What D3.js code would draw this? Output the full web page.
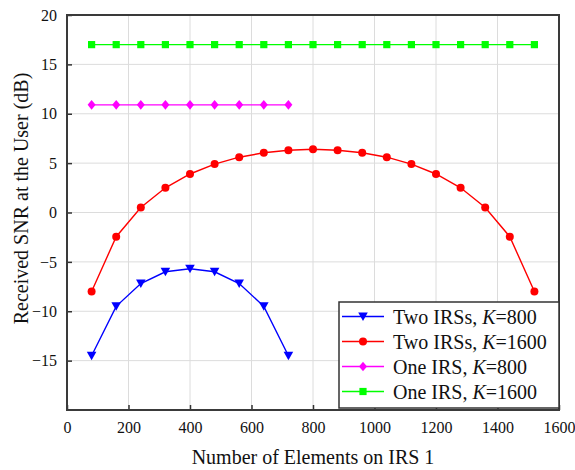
<!DOCTYPE html>
<html>
<head>
<meta charset="utf-8">
<script src="https://cdn.jsdelivr.net/npm/d3@7"></script>
<style>
  body { margin: 0; background: #fff; }
  svg, svg text { font-family: "Liberation Serif", Tinos, serif; }
</style>
</head>
<body>
<svg id="chart" width="575" height="470"></svg>
<script>
// data
const xShort = [80, 160, 240, 320, 400, 480, 560, 640, 720];
const xLong = [80, 160, 240, 320, 400, 480, 560, 640, 720, 800, 880, 960, 1040, 1120, 1200, 1280, 1360, 1440, 1520];
const twoIrsK800 = [-14.5, -9.5, -7.2, -6.0, -5.7, -6.0, -7.2, -9.5, -14.5];
const twoIrsK1600 = [-8.0, -2.45, 0.5, 2.5, 3.9, 4.9, 5.6, 6.05, 6.3, 6.4, 6.3, 6.05, 5.6, 4.9, 3.9, 2.5, 0.5, -2.45, -8.0];
const oneIrsK800 = [10.9, 10.9, 10.9, 10.9, 10.9, 10.9, 10.9, 10.9, 10.9];
const oneIrsK1600 = [17, 17, 17, 17, 17, 17, 17, 17, 17, 17, 17, 17, 17, 17, 17, 17, 17, 17, 17];
const xTicks = [0, 200, 400, 600, 800, 1000, 1200, 1400, 1600];
const yTicks = [-15, -10, -5, 0, 5, 10, 15, 20];
const yGrid = [-15, -10, -5, 0, 5, 10, 15];

const series = [
  { name: "Two IRSs, ", k: "800", xs: xShort, ys: twoIrsK800, color: "#0000ff", marker: "triangleDown" },
  { name: "Two IRSs, ", k: "1600", xs: xLong, ys: twoIrsK1600, color: "#ff0000", marker: "circle" },
  { name: "One IRS, ", k: "800", xs: xShort, ys: oneIrsK800, color: "#ff00ff", marker: "diamond" },
  { name: "One IRS, ", k: "1600", xs: xLong, ys: oneIrsK1600, color: "#00ff00", marker: "square" }
];

const serif = "'Liberation Serif', Tinos, serif";
const margin = { left: 67, top: 15, right: 16, bottom: 60 };
const width = 575, height = 470;
const svg = d3.select("#chart").style("font-family", serif);

const x = d3.scaleLinear().domain([0, 1600]).range([margin.left, width - margin.right]);
const y = d3.scaleLinear().domain([-20, 20]).range([height - margin.bottom, margin.top]);

// grid
const grid = svg.append("g").attr("stroke", "#dcdcdc").attr("stroke-width", 1);
grid.selectAll("line.vx")
  .data(xTicks.slice(1, -1))
  .join("line")
  .attr("x1", d => x(d)).attr("x2", d => x(d))
  .attr("y1", y(-20)).attr("y2", y(20));
grid.selectAll("line.hy")
  .data(yGrid)
  .join("line")
  .attr("x1", x(0)).attr("x2", x(1600))
  .attr("y1", d => y(d)).attr("y2", d => y(d));

// axes (ticks pointing inward)
const xAxis = d3.axisBottom(x).tickValues(xTicks).tickFormat(d3.format("d"))
  .tickSizeInner(-5).tickSizeOuter(0).tickPadding(12);
const yAxis = d3.axisLeft(y).tickValues(yTicks).tickFormat(d3.format("d"))
  .tickSizeInner(-5).tickSizeOuter(0).tickPadding(10);

const gx = svg.append("g").attr("transform", `translate(0,${y(-20)})`).call(xAxis);
const gy = svg.append("g").attr("transform", `translate(${x(0)},0)`).call(yAxis);
[gx, gy].forEach(g => {
  g.select(".domain").remove();
  g.selectAll(".tick line").attr("stroke", "#333").attr("stroke-width", 1.5);
  g.selectAll(".tick text")
    .attr("fill", "#111")
    .style("font-family", serif)
    .style("font-size", "16px");
});
gx.selectAll(".tick text").attr("dy", "0.71em");

// frame
svg.append("rect")
  .attr("x", x(0)).attr("y", y(20))
  .attr("width", x(1600) - x(0)).attr("height", y(-20) - y(20))
  .attr("fill", "none")
  .attr("stroke", "#3a3a3a")
  .attr("stroke-width", 2);

// markers
function drawMarker(g, type, cx, cy, color) {
  if (type === "circle") {
    g.append("circle").attr("cx", cx).attr("cy", cy).attr("r", 4).attr("fill", color);
  } else if (type === "square") {
    g.append("rect").attr("x", cx - 3.6).attr("y", cy - 3.6).attr("width", 7.2).attr("height", 7.2).attr("fill", color);
  } else if (type === "diamond") {
    g.append("path")
      .attr("d", `M${cx},${cy - 4.8}L${cx + 4},${cy}L${cx},${cy + 4.8}L${cx - 4},${cy}Z`)
      .attr("fill", color);
  } else if (type === "triangleDown") {
    g.append("path")
      .attr("d", `M${cx - 4.8},${cy - 4}L${cx + 4.8},${cy - 4}L${cx},${cy + 4.5}Z`)
      .attr("fill", color);
  }
}

const line = d3.line().x(d => x(d[0])).y(d => y(d[1]));
const plot = svg.append("g");
// draw back to front so blue ends on top like the reference
series.slice().reverse().forEach(s => {
  const pts = s.xs.map((v, i) => [v, s.ys[i]]);
  const g = plot.append("g");
  g.append("path")
    .attr("d", line(pts))
    .attr("fill", "none")
    .attr("stroke", s.color)
    .attr("stroke-width", 1.4);
  pts.forEach(p => drawMarker(g, s.marker, x(p[0]), y(p[1]), s.color));
});

// axis titles
svg.append("text")
  .attr("x", (x(0) + x(1600)) / 2)
  .attr("y", 464)
  .attr("text-anchor", "middle")
  .style("font-family", serif)
  .style("font-size", "20px")
  .attr("fill", "#111")
  .text("Number of Elements on IRS 1");

svg.append("text")
  .attr("transform", `translate(28,${(y(20) + y(-20)) / 2 - 14}) rotate(-90)`)
  .attr("text-anchor", "middle")
  .style("font-family", serif)
  .style("font-size", "20px")
  .attr("fill", "#111")
  .text("Received SNR at the User (dB)");

// legend
const lg = svg.append("g");
const lgLeft = 339, lgTop = 302, lgRight = x(1600), lgBottom = 408;
lg.append("rect")
  .attr("x", lgLeft).attr("y", lgTop)
  .attr("width", lgRight - lgLeft).attr("height", lgBottom - lgTop)
  .attr("fill", "#fff")
  .attr("stroke", "#333")
  .attr("stroke-width", 1.5);
series.forEach((s, i) => {
  const cy = 316.5 + i * 25;
  lg.append("line")
    .attr("x1", 342).attr("x2", 384)
    .attr("y1", cy).attr("y2", cy)
    .attr("stroke", s.color).attr("stroke-width", 1.4);
  drawMarker(lg, s.marker, 363, cy, s.color);
  const t = lg.append("text")
    .attr("x", 393)
    .attr("y", cy + 7)
    .style("font-family", serif)
    .style("font-size", "20px")
    .attr("fill", "#111");
  t.append("tspan").text(s.name);
  t.append("tspan").style("font-style", "italic").text("K");
  t.append("tspan").text("=" + s.k);
});
</script>
</body>
</html>
